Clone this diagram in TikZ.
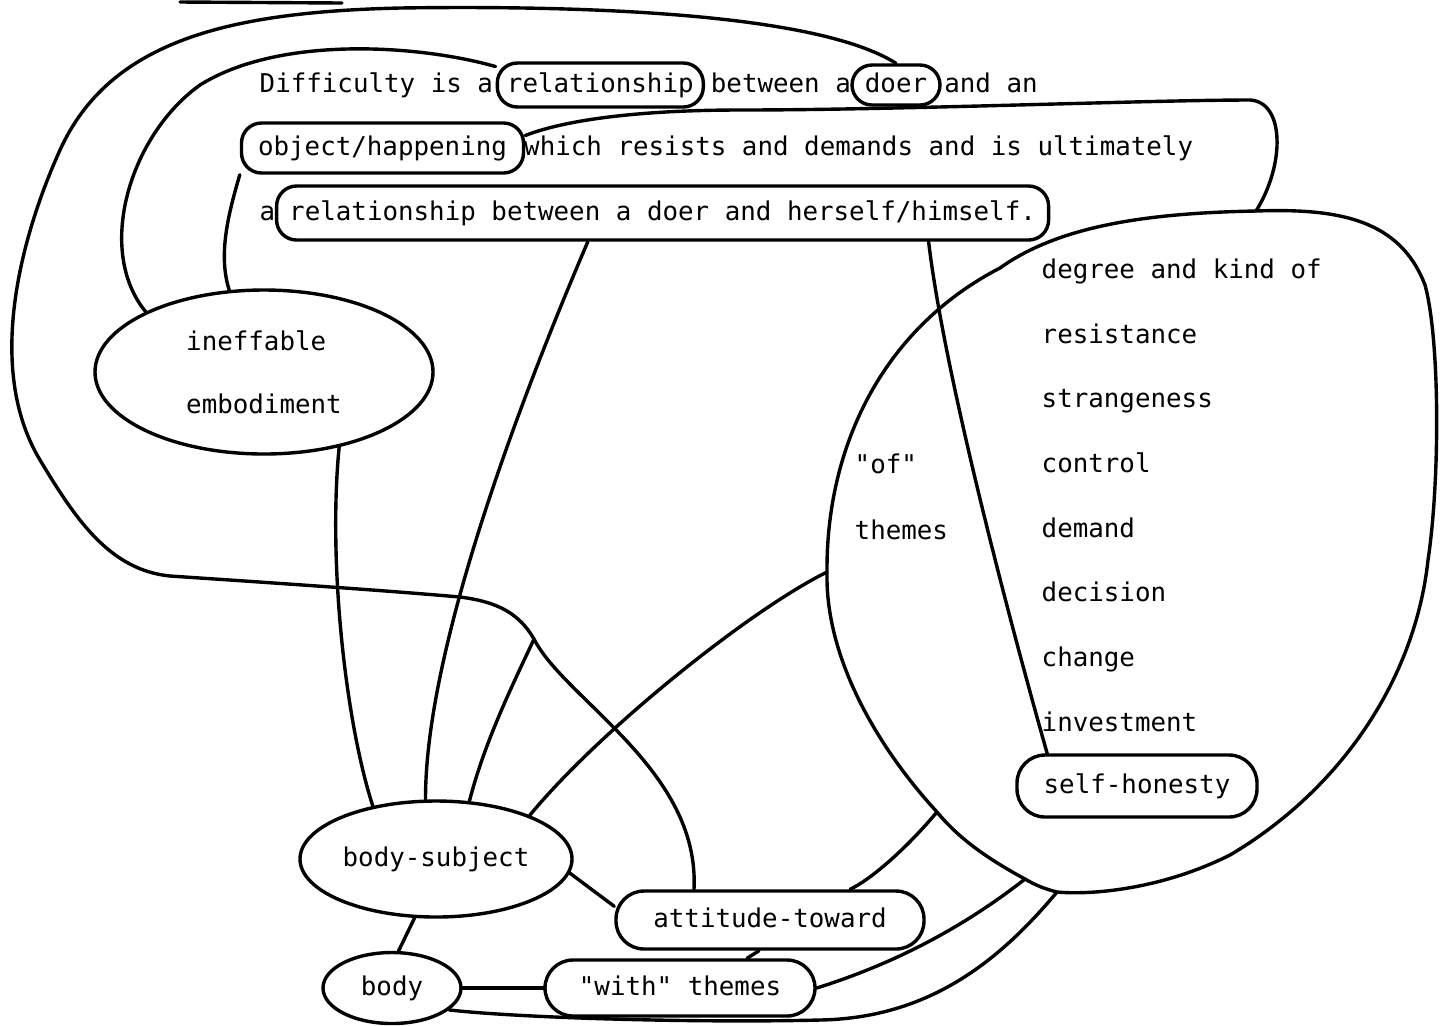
\documentclass[tikz,border=0pt]{standalone}
\usepackage{fontspec}
\setmonofont{DejaVu Sans Mono}
\usetikzlibrary{shapes.geometric}

\begin{document}
\begin{tikzpicture}[x=0.5pt,y=0.5pt,yscale=-1,xscale=1,
	line width=1.7pt,line cap=round,line join=round,
	font=\ttfamily\fontsize{12.92pt}{16pt}\selectfont,
	wordbox/.style={text height=9.5pt,text depth=2.5pt},
	txt/.style={wordbox,anchor=west,inner sep=0pt},
	wordloop/.style 2 args={wordbox,draw,rounded corners=10pt,inner sep=0pt,minimum width=#1,minimum height=#2},
	pill/.style 2 args={wordloop={#1}{#2},rounded corners=14pt},
	blob/.style 2 args={ellipse,draw,inner xsep=-12pt,inner ysep=0pt,minimum width=#1,minimum height=#2}]
		\useasboundingbox (0,0) rectangle (1449,1025);
		\node[txt] (lineA) at (258,85) {Difficulty is a};
		\node[wordloop={103pt}{22pt}] (relA) at (600.3,85) {relationship};
		\node[txt] (lineB) at (709.2,85) {between a};
		\node[wordloop={44pt}{20pt}] (doer) at (896,85) {doer};
		\node[txt] (lineC) at (942.6,85) {and an};
		\node[wordloop={141pt}{25pt}] (object) at (382.5,148) {object/happening};
		\node[txt] (lineD) at (522.5,148) {which resists and demands and is ultimately};
		\node[txt] (lineE) at (258,213) {a};
		\node[wordloop={386pt}{27pt}] (relB) at (662.6,213) {relationship between a doer and herself/himself.};
		\node[txt] (degree) at (1040,271) {degree and kind of};
		\node[txt] (resist) at (1040,336) {resistance};
		\node[txt] (strange) at (1040,400) {strangeness};
		\node[txt] (control) at (1040,465) {control};
		\node[txt] (demand) at (1040,530) {demand};
		\node[txt] (decision) at (1040,594) {decision};
		\node[txt] (change) at (1040,659) {change};
		\node[txt] (invest) at (1040,724) {investment};
		\node[pill={120pt}{31pt}] (selfhon) at (1137,786) {self-honesty};
		\node[txt] (ofq) at (853,466) {"of"};
		\node[txt] (ofthemes) at (853,532) {themes};
		\node[blob={169pt}{82pt},align=left] (ineff) at (264,372) {ineffable\\[15.5pt]embodiment};
		\node[blob={136pt}{58pt},wordbox] (bodysub) at (436,859) {body-subject};
		\node[blob={69pt}{35.5pt},wordbox] (body) at (392,988) {body};
		\node[pill={154pt}{29pt}] (attitude) at (770,920) {attitude-toward};
		\node[pill={135pt}{28pt}] (withth) at (680,988) {"with" themes};
		\coordinate (cross) at (534,639);
		\coordinate (kindtop) at (1256,211);
		\coordinate (ofleft) at (827,572);
		\coordinate (kindA) at (937,812);
		\coordinate (kindB) at (1025,879);
		\coordinate (kindC) at (1057,892);
		\draw (kindtop) .. controls (1340,208) and (1400,220) .. (1425,285) .. controls (1440,340) and (1440,480) .. (1428,560) .. controls (1415,680) and (1340,790) .. (1230,855) .. controls (1160,890) and (1090,895) .. (kindC) .. controls (1045,889) and (1035,885) .. (kindB) .. controls (990,860) and (960,840) .. (kindA) .. controls (880,750) and (825,660) .. (ofleft) .. controls (826,450) and (880,330) .. (1000,268) .. controls (1060,225) and (1150,213) .. (kindtop) -- cycle;
		\draw (doer.north) .. controls (820,15) and (600,5) .. (400,8) .. controls (230,12) and (110,40) .. (60,150) .. controls (30,216) and (-20,360) .. (40,460) .. controls (76,520) and (110,570) .. (170,576) .. controls (260,582) and (380,590) .. (460,597) .. controls (500,602) and (520,615) .. (cross) .. controls (565,700) and (700,770) .. (attitude.158);
		\draw (cross) .. controls (515,680) and (485,740) .. (bodysub.60);
		\draw (relA.170) .. controls (420,45) and (280,35) .. (200,85) .. controls (130,135) and (95,250) .. (ineff.153);
		\draw (object.south west) .. controls (228,215) and (218,255) .. (ineff.113);
		\draw (object.5) .. controls (570,118) and (650,110) .. (740,110) .. controls (900,110) and (1150,100) .. (1250,100) .. controls (1285,102) and (1285,165) .. (kindtop);
		\draw (relB.201) .. controls (520,400) and (425,650) .. (bodysub.100);
		\draw ([xshift=133pt]relB.south) .. controls (945,380) and (1015,640) .. (selfhon.160);
		\draw (ineff.315) .. controls (328,560) and (345,720) .. (bodysub.140);
		\draw (ofleft) .. controls (750,610) and (600,730) .. (bodysub.25);
		\draw (kindA) .. controls (905,850) and (870,880) .. (attitude.21);
		\draw (kindB) .. controls (960,930) and (890,965) .. (withth.east);
		\draw (kindC) .. controls (1000,960) and (930,1018) .. (820,1020) .. controls (700,1023) and (520,1018) .. (body.339);
		\draw (bodysub.354) -- (attitude.175);
		\draw (bodysub.250) -- (body.80);
		\draw (body.east) -- (withth.west);
		\draw ([xshift=-5.5pt]attitude.south) -- ([xshift=33.5pt]withth.north);
		\draw (180,2) -- (342,3);
\end{tikzpicture}
\end{document}
